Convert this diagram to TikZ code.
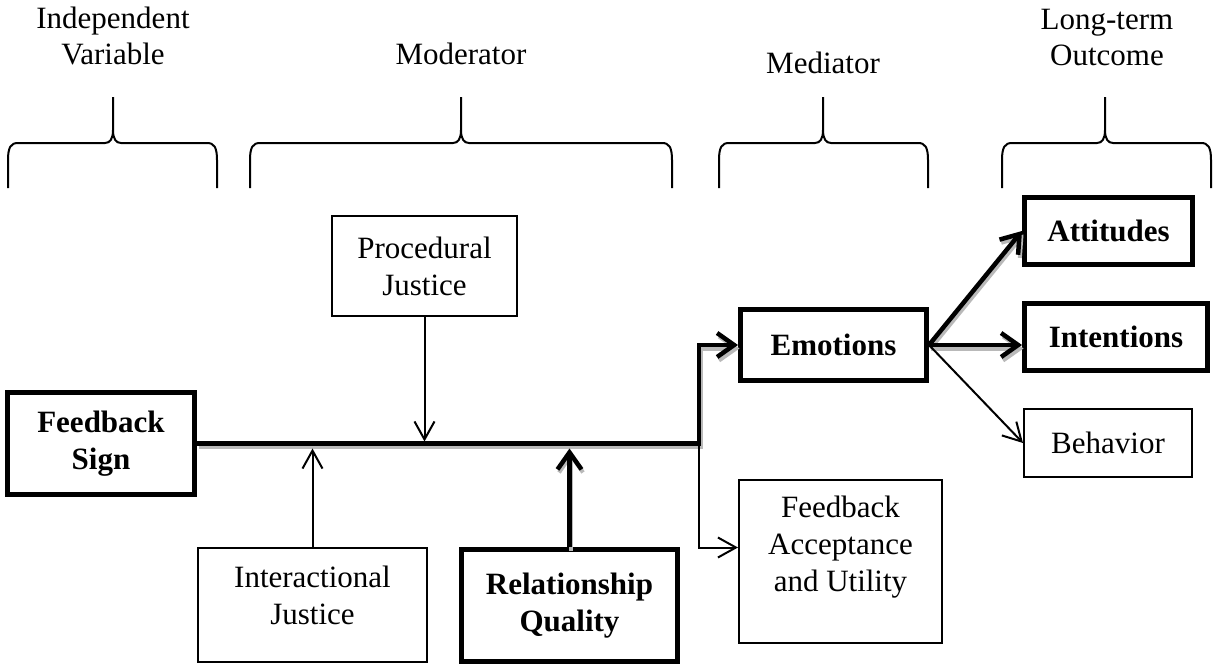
\documentclass[tikz,border=0pt]{standalone}
\usepackage{fontspec}
\setmainfont{Liberation Serif}
\usetikzlibrary{arrows.meta}

\begin{document}
\begin{tikzpicture}[x=1pt, y=-1pt,
  box/.style={
    draw, line width=2pt, align=center, inner sep=0pt,
    font=\fontsize{31}{37}\selectfont
  },
  boldbox/.style={box, line width=5pt, font=\fontsize{31}{37}\selectfont\bfseries},
  head/.style={align=center, inner sep=0pt, font=\fontsize{31}{36}\selectfont},
  brace/.style={line width=2pt},
  arrow/.style={-{Straight Barb[length=18pt, width=20pt]}, line width=2pt},
  thickarrow/.style={-{Straight Barb[length=17pt, width=24pt]}, line width=4.5pt,
    preaction={draw=gray!55, line width=4pt, transform canvas={shift={(1.5pt,-3.5pt)}}}}
]
\useasboundingbox (0,0) rectangle (1213,665);

% headings and braces
\node[head] (iv) at (113,36) {Independent\\Variable};
\node[head] (mod) at (461,54) {Moderator};
\node[head] (med) at (823,63) {Mediator};
\node[head] (lto) at (1107,37) {Long-term\\Outcome};
\foreach \l/\t/\r in {8/113/217, 250/461/672, 719/823/928, 1002/1105/1211}
  \draw[brace] (\l,188) -- (\l,160) .. controls (\l,147) and (\l+3,143) .. (\l+10,143)
    -- (\t-8,143) .. controls (\t-3,143) and (\t,139) .. (\t,130) -- (\t,97)
    -- (\t,130) .. controls (\t,139) and (\t+3,143) .. (\t+8,143)
    -- (\r-10,143) .. controls (\r-3,143) and (\r,147) .. (\r,160) -- (\r,188);

% boxes
\node[boldbox, minimum width=187pt, minimum height=102pt] (fsign) at (101,443.5) {Feedback\\Sign};
\node[box, minimum width=185pt, minimum height=100pt] (proc) at (424.5,266) {Procedural\\Justice};
\node[box, minimum width=229pt, minimum height=114pt] (iact) at (312.5,605) {Interactional\\Justice\rule[-19pt]{0pt}{0pt}};
\node[boldbox, minimum width=216pt, minimum height=112pt] (relq) at (569.5,605.5) {Relationship\\Quality};
\node[box, minimum width=203pt, minimum height=163pt] (fau) at (840.5,561.5) {Feedback\\Acceptance\\and Utility\rule[-35pt]{0pt}{0pt}};
\node[boldbox, minimum width=186pt, minimum height=71pt] (emo) at (833.5,345) {Emotions};
\node[boldbox, minimum width=168pt, minimum height=67pt] (att) at (1108.5,231) {Attitudes};
\node[boldbox, minimum width=183pt, minimum height=67pt] (intn) at (1116,337) {Intentions};
\node[box, minimum width=168pt, minimum height=68pt] (behav) at (1108,443) {Behavior};

% paths
\coordinate (split) at (699,443.5);
\draw[thickarrow] (fsign.east) -- (split) |- (emo.west);
\draw[arrow] (split) |- ([yshift=14pt]fau.west);
\draw[arrow] (proc.south) -- ([yshift=2pt]proc.south |- split);
\draw[arrow] (iact.north) -- ([yshift=-5pt]iact.north |- split);
\draw[thickarrow] (relq.north) -- ([yshift=-5pt]relq.north |- split);
\draw[thickarrow] (emo.east) -- (att.west);
\draw[thickarrow] (emo.east) -- (emo.east -| intn.west);
\draw[arrow] (emo.east) -- (behav.west);
\end{tikzpicture}
\end{document}
